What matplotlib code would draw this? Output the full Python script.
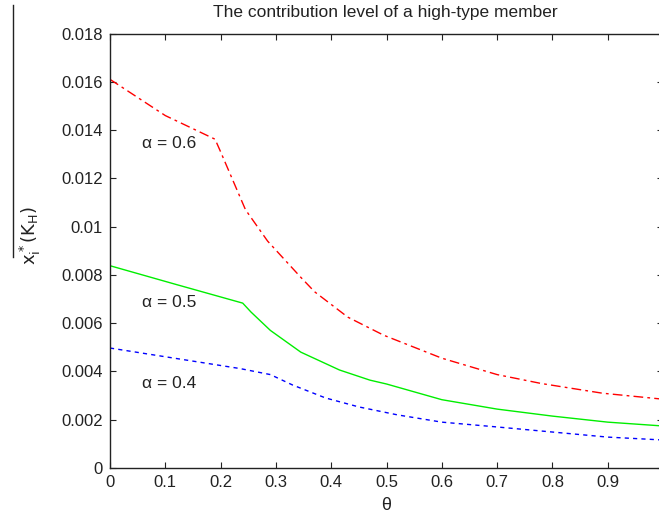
import matplotlib
matplotlib.use("Agg")
import matplotlib.pyplot as plt
from matplotlib.lines import Line2D

plt.rcParams['font.family'] = ['Liberation Sans', 'DejaVu Sans']
plt.rcParams['lines.scale_dashes'] = False

# values
theta_06 = [0, 0.10, 0.19, 0.20, 0.245, 0.285, 0.345, 0.37, 0.43, 0.495, 0.6, 0.7, 0.78, 0.89, 1.0]
x_06 = [0.0161, 0.0146, 0.01362, 0.0131, 0.0107, 0.0094, 0.0079, 0.0073, 0.00625, 0.0055,
        0.00455, 0.00387, 0.0035, 0.0031, 0.00285]

theta_05 = [0, 0.12, 0.24, 0.255, 0.29, 0.345, 0.415, 0.47, 0.5, 0.6, 0.7, 0.8, 0.9, 1.0]
x_05 = [0.00838, 0.0076, 0.00683, 0.00646, 0.0057, 0.0048, 0.00406, 0.00364, 0.00348,
        0.00283, 0.00244, 0.00215, 0.0019, 0.00174]

theta_04 = [0, 0.235, 0.29, 0.33, 0.39, 0.45, 0.52, 0.6, 0.7, 0.8, 0.9, 1.0]
x_04 = [0.00497, 0.00412, 0.00387, 0.00344, 0.0029, 0.00253, 0.0022, 0.0019, 0.0017,
        0.00149, 0.00128, 0.00116]

labels = ['\u03b1 = 0.6', '\u03b1 = 0.5', '\u03b1 = 0.4']
label_y = [0.01346, 0.00687, 0.00352]

yticks = [0, 0.002, 0.004, 0.006, 0.008, 0.01, 0.012, 0.014, 0.016, 0.018]
ytick_labels = ['0', '0.002', '0.004', '0.006', '0.008', '0.01', '0.012', '0.014', '0.016', '0.018']
xticks = [0, 0.1, 0.2, 0.3, 0.4, 0.5, 0.6, 0.7, 0.8, 0.9, 1.0]
# the "1" label falls past the right edge of the picture
xtick_labels = ['0', '0.1', '0.2', '0.3', '0.4', '0.5', '0.6', '0.7', '0.8', '0.9', '']

W, H = 659, 517
fig = plt.figure(figsize=(W / 100, H / 100), dpi=100)
ax = fig.add_axes([110 / W, 1 - 468 / H, 553 / W, 434.5 / H])

ax.plot(theta_06, x_06, color='#ff0000', lw=1, linestyle=(0, (7, 3, 2, 3)))
ax.plot(theta_05, x_05, color='#00ee00', lw=1, linestyle='-')
ax.plot(theta_04, x_04, color='#0000ff', lw=1, linestyle=(0, (3, 3)))

for lab, yv in zip(labels, label_y):
    ax.text(0.057, yv, lab, fontsize=12.5, va='center', ha='left', color='#222222')

ax.set_xlim(0, 1)
ax.set_ylim(0, 0.018)
ax.set_xticks(xticks)
ax.set_xticklabels(xtick_labels)
ax.set_yticks(yticks)
ax.set_yticklabels(ytick_labels)
ax.tick_params(direction='in', length=4, width=0.8, top=True, right=True,
               labelsize=12, colors='#222222', pad=5)
for s in ax.spines.values():
    s.set_linewidth(1)
    s.set_color('#222222')

fig.text(385 / W, 1 - 13 / H, 'The contribution level of a high-type member',
         ha='center', va='center', fontsize=12.5, color='#222222')
fig.text(386 / W, 1 - 506 / H, '\u03b8', ha='center', va='center', fontsize=13, color='#222222')
fig.text(30 / W, 1 - 236 / H, r'$\mathrm{x_i^*(K_H)}$', rotation=90,
         ha='center', va='center', fontsize=13, color='#222222')

fig.add_artist(Line2D([13 / W, 13 / W], [1 - 5 / H, 1 - 257 / H], color='#222222', lw=1))

fig.savefig('out.png', dpi=100)
